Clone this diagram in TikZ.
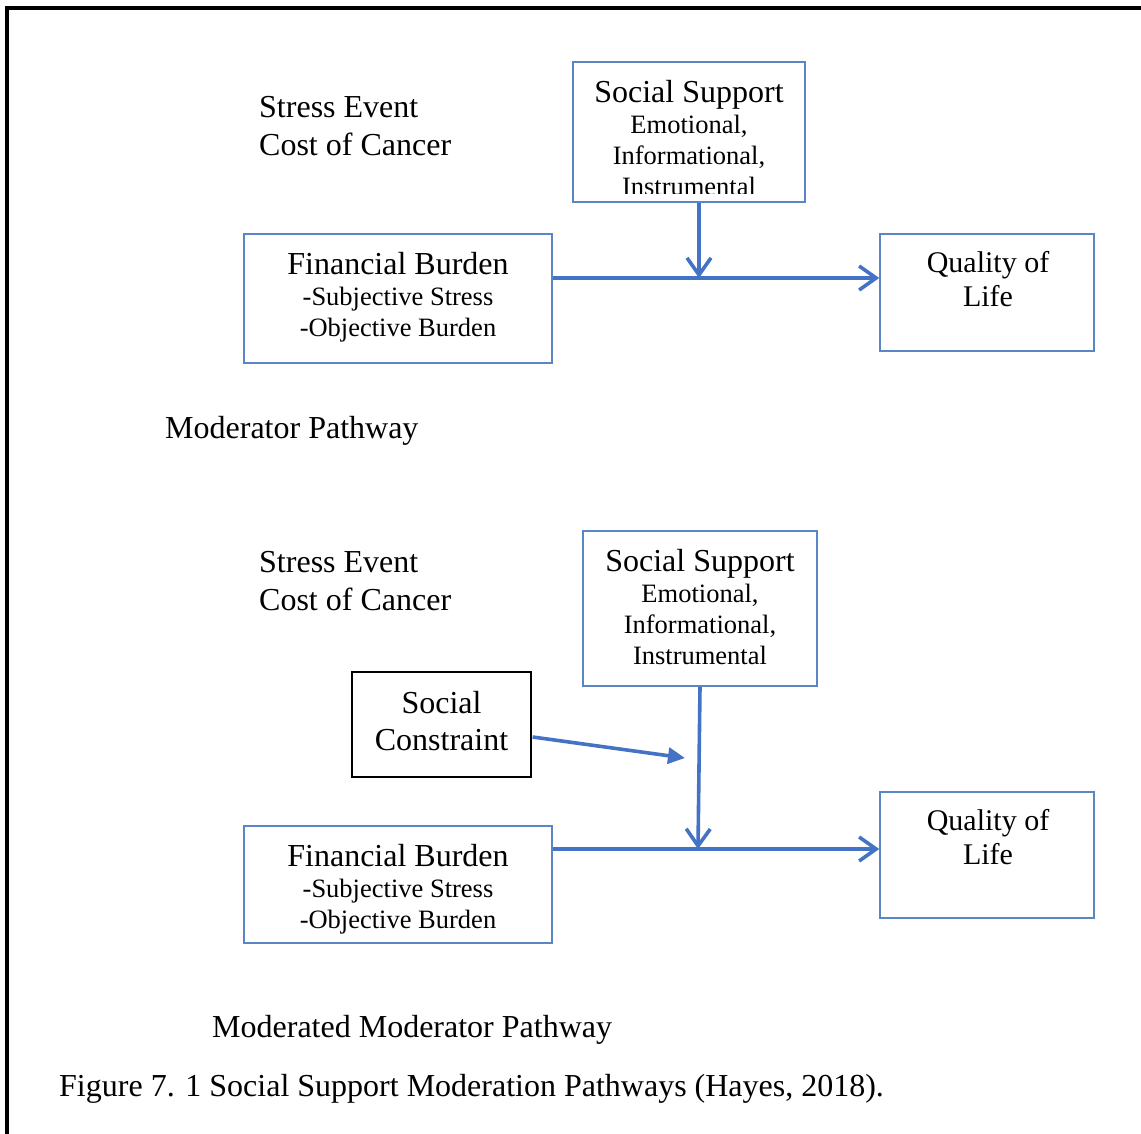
\documentclass[tikz,border=0pt]{standalone}
\usepackage{fontspec}
\setmainfont{Liberation Serif}
\usetikzlibrary{arrows.meta,calc}
\definecolor{boxblue}{RGB}{91,134,197}
\definecolor{arrowblue}{RGB}{68,114,196}

\begin{document}
\begin{tikzpicture}[x=1pt,y=-1pt,
  bbox/.style={draw=boxblue,line width=1.5pt,inner sep=0pt},
  kbox/.style={draw=black,line width=1.3pt,inner sep=0pt},
  tbig/.style={inner sep=0pt,font=\fontsize{32}{38}\selectfont},
  tmid/.style={inner sep=0pt,font=\fontsize{30}{36}\selectfont},
  tsmall/.style={inner sep=0pt,font=\fontsize{26.5}{30}\selectfont},
  flow/.style={draw=arrowblue,line width=3.6pt,-{Straight Barb[length=17pt,width=24pt]}},
  push/.style={draw=arrowblue,line width=3.6pt,-{Triangle[length=17pt,width=16pt]}}]

\useasboundingbox (0,0) rectangle (1141,1133);
\begin{scope}
  \clip (0,0) rectangle (1141,1133);
  % outer frame, running off the right and bottom edges
  \draw[line width=3.2pt] (7,1150) -- (7,8) -- (1160,8);
\end{scope}

% ---------- Moderator pathway ----------
\node[tbig,anchor=base west] (se1) at (259,117) {Stress Event};
\node[tbig,anchor=base west] (cc1) at (259,155) {Cost of Cancer};

\node[bbox,minimum width=232pt,minimum height=140pt] (ss1) at (689,132) {};
\begin{scope}
  \clip (573,62) rectangle (805,193);
  \node[tbig,anchor=base] (ss1a) at (689,102) {Social Support};
  \node[tsmall,anchor=base] (ss1b) at (689,133) {Emotional,};
  \node[tsmall,anchor=base] (ss1c) at (689,164) {Informational,};
  \node[tsmall,anchor=base] (ss1d) at (689,195) {Instrumental};
\end{scope}

\node[bbox,minimum width=308pt,minimum height=129pt] (fb1) at (398,298.5) {};
\node[tbig,anchor=base] (fb1a) at (398,274) {Financial Burden};
\node[tsmall,anchor=base] (fb1b) at (398,305) {-Subjective Stress};
\node[tsmall,anchor=base] (fb1c) at (398,336) {-Objective Burden};

\node[bbox,minimum width=214pt,minimum height=117pt] (ql1) at (987,292.5) {};
\node[tmid,anchor=base] (ql1a) at (988,272) {Quality of};
\node[tmid,anchor=base] (ql1b) at (988,306) {Life};

\coordinate (j1) at (699,278);
\draw[flow] (ss1.south -| j1) -- (j1);
\draw[flow] (fb1.east |- j1) -- (ql1.west |- j1);

\node[tbig,anchor=base west] (mp1) at (165,438) {Moderator Pathway};

% ---------- Moderated moderator pathway ----------
\node[tbig,anchor=base west] (se2) at (259,572) {Stress Event};
\node[tbig,anchor=base west] (cc2) at (259,610) {Cost of Cancer};

\node[bbox,minimum width=234pt,minimum height=155pt] (ss2) at (700,608.5) {};
\node[tbig,anchor=base] (ss2a) at (700,571) {Social Support};
\node[tsmall,anchor=base] (ss2b) at (700,602) {Emotional,};
\node[tsmall,anchor=base] (ss2c) at (700,633) {Informational,};
\node[tsmall,anchor=base] (ss2d) at (700,664) {Instrumental};

\node[kbox,minimum width=179pt,minimum height=105pt] (sc) at (441.5,724.5) {};
\node[tbig,anchor=base] (sca) at (441.5,713) {Social};
\node[tbig,anchor=base] (scb) at (441.5,750) {Constraint};

\node[bbox,minimum width=308pt,minimum height=117pt] (fb2) at (398,884.5) {};
\node[tbig,anchor=base] (fb2a) at (398,866) {Financial Burden};
\node[tsmall,anchor=base] (fb2b) at (398,897) {-Subjective Stress};
\node[tsmall,anchor=base] (fb2c) at (398,928) {-Objective Burden};

\node[bbox,minimum width=214pt,minimum height=126pt] (ql2) at (987,855) {};
\node[tmid,anchor=base] (ql2a) at (988,830) {Quality of};
\node[tmid,anchor=base] (ql2b) at (988,864) {Life};

\coordinate (j2) at (698,849);
\coordinate (m2) at (685,758);
\draw[flow] (ss2.south) -- (j2);
\draw[flow] (fb2.east |- j2) -- (ql2.west |- j2);
\draw[push] ($(sc.east)+(1,12.5)$) -- (m2);

\node[tbig,anchor=base west] (mp2) at (212,1037) {Moderated Moderator Pathway};

\node[tbig,anchor=base west] (cap) at (59,1096) {Figure 7. 1 Social Support Moderation Pathways (Hayes, 2018).};
\end{tikzpicture}
\end{document}
